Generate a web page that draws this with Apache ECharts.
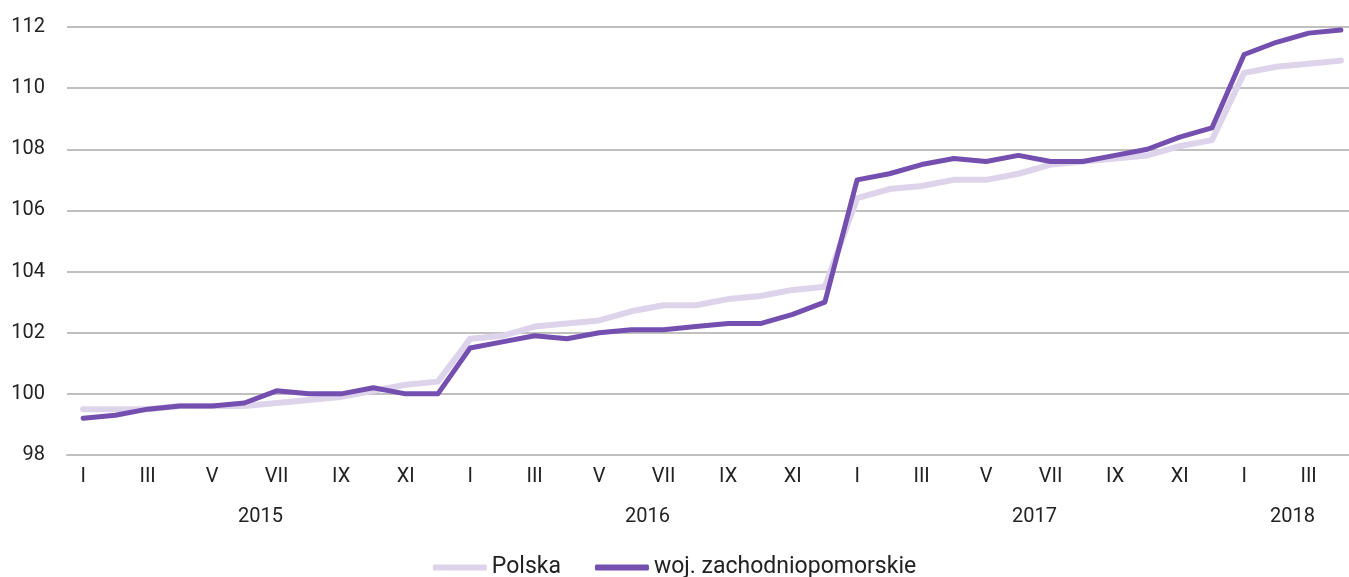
<!DOCTYPE html>
<html>
<head>
<meta charset="utf-8">
<script src="https://cdn.jsdelivr.net/npm/echarts@6/dist/echarts.min.js"></script>
<style>
html,body{margin:0;padding:0;background:#fff;overflow:hidden;}
#chart{width:1349px;height:577px;}
</style>
</head>
<body>
<div id="chart"></div>
<script>
const months = ['I','II','III','IV','V','VI','VII','VIII','IX','X','XI','XII',
  'I','II','III','IV','V','VI','VII','VIII','IX','X','XI','XII',
  'I','II','III','IV','V','VI','VII','VIII','IX','X','XI','XII',
  'I','II','III','IV'];
const years = ['2015','2016','2017','2018'];
const yearCenters = [5.5, 17.5, 29.5, 37.5];
const polska = [99.5,99.5,99.5,99.6,99.6,99.6,99.7,99.8,99.9,100.1,100.3,100.4,
  101.8,101.9,102.2,102.3,102.4,102.7,102.9,102.9,103.1,103.2,103.4,103.5,
  106.4,106.7,106.8,107.0,107.0,107.2,107.5,107.6,107.7,107.8,108.1,108.3,
  110.5,110.7,110.8,110.9];
const zachodniopomorskie = [99.2,99.3,99.5,99.6,99.6,99.7,100.1,100.0,100.0,100.2,100.0,100.0,
  101.5,101.7,101.9,101.8,102.0,102.1,102.1,102.2,102.3,102.3,102.6,103.0,
  107.0,107.2,107.5,107.7,107.6,107.8,107.6,107.6,107.8,108.0,108.4,108.7,
  111.1,111.5,111.8,111.9];
const seriesNames = ['Polska','woj. zachodniopomorskie'];

const FONT = "'Roboto', sans-serif";
const chart = echarts.init(document.getElementById('chart'));
chart.setOption({
  animation:false,
  textStyle:{fontFamily:FONT},
  grid:{left:67,width:1290,top:27,height:428,containLabel:false,outerBoundsMode:'none'},
  legend:{
    bottom:-7, left:'center',
    itemWidth:54, itemHeight:6, itemGap:34,
    icon:'roundRect',
    textStyle:{fontFamily:FONT,fontSize:23,color:'#222'},
    data:seriesNames
  },
  xAxis:[{
    type:'category', data:months, boundaryGap:true,
    axisLine:{show:true,lineStyle:{color:'#c0c0c0',width:2}},
    axisTick:{show:false},
    axisLabel:{interval:1,margin:12,fontSize:20,color:'#222',fontFamily:FONT}
  },{
    type:'value', position:'bottom', min:-0.5, max:39.5, interval:0.5,
    axisLine:{show:false}, axisTick:{show:false}, splitLine:{show:false},
    axisLabel:{
      margin:52,fontSize:20,color:'#222',fontFamily:FONT,showMinLabel:true,showMaxLabel:true,
      formatter:function(v){
        for(let i=0;i<yearCenters.length;i++){ if(Math.abs(v-yearCenters[i])<1e-6) return years[i]; }
        return '';
      }
    }
  }],
  yAxis:{
    type:'value', min:98, max:112, interval:2,
    axisLine:{show:false}, axisTick:{show:false},
    splitLine:{lineStyle:{color:'#c0c0c0',width:2}},
    axisLabel:{margin:22,fontSize:20,color:'#222',fontFamily:FONT}
  },
  series:[{
    name:seriesNames[0], type:'line', data:polska, xAxisIndex:0,
    symbol:'none', lineStyle:{color:'#ddd3ea',width:6,cap:'round',join:'round'},
    itemStyle:{color:'#ddd3ea'}, z:2
  },{
    name:seriesNames[1], type:'line', data:zachodniopomorskie, xAxisIndex:0,
    symbol:'none', lineStyle:{color:'#744fb0',width:5,cap:'round',join:'round'},
    itemStyle:{color:'#744fb0'}, z:3
  }]
});
</script>
</body>
</html>
